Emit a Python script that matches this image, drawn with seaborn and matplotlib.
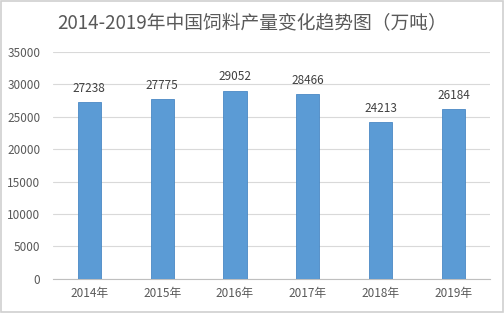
import matplotlib
matplotlib.use("Agg")
import matplotlib.pyplot as plt
import seaborn as sns
import pandas as pd
from matplotlib.patches import Rectangle

years = ["2014年", "2015年", "2016年", "2017年", "2018年", "2019年"]
values = [27238, 27775, 29052, 28466, 24213, 26184]
yticks = [0, 5000, 10000, 15000, 20000, 25000, 30000, 35000]
title = "2014-2019年中国饲料产量变化趋势图（万吨）"

sns.set_theme(style="white")
plt.rcParams['font.family'] = ['Noto Sans CJK SC', 'DejaVu Sans']

df = pd.DataFrame({"year": years, "value": values})

fig = plt.figure(figsize=(5.04, 3.13), dpi=100)
ax = fig.add_axes([0.105, 0.109, 0.867, 0.725])
sns.barplot(data=df, x="year", y="value", color="#5B9BD5", width=0.32,
            edgecolor="#4A89C4", linewidth=0.6, ax=ax, saturation=1, zorder=3)

ax.set_ylim(0, 35000)
ax.set_yticks(yticks)
ax.set_yticklabels([str(v) for v in yticks])
ax.yaxis.grid(True, color="#D9D9D9", linewidth=0.8, zorder=0)
ax.set_axisbelow(True)
ax.set_xlabel("")
ax.set_ylabel("")
for s in ["top", "right", "left"]:
    ax.spines[s].set_visible(False)
ax.spines["bottom"].set_color("#BFBFBF")
ax.spines["bottom"].set_linewidth(0.8)
ax.tick_params(axis="y", length=0, labelsize=8.5, colors="#595959", pad=9)
ax.tick_params(axis="x", length=0, labelsize=8.5, colors="#595959", pad=6)

for i, v in enumerate(values):
    ax.text(i, v + 1100, str(v), ha="center", va="bottom", fontsize=8.5, color="#404040")

fig.text(0.5, 0.925, title, ha="center", va="center", fontsize=13.5, color="#595959")
fig.patches.append(Rectangle((0.002, 0.003), 0.996, 0.994, transform=fig.transFigure,
                             fill=False, edgecolor="#D0D0D0", linewidth=1.2))

fig.savefig("out.png", dpi=100)
